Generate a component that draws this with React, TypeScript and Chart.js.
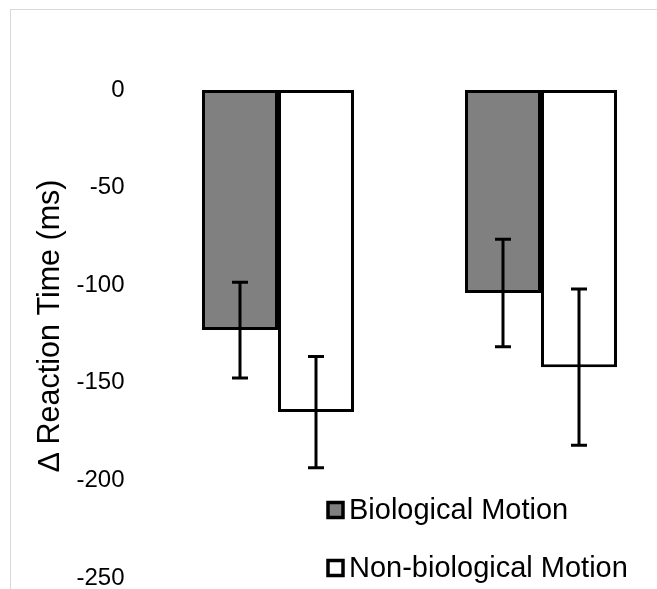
import React, { useEffect, useRef } from "react";
import { Chart, registerables } from "chart.js";

Chart.register(...registerables);

const categories = ["Condition A", "Condition B"];
const seriesNames = ["Biological Motion", "Non-biological Motion"];
const bioMeans = [-123, -104];
const bioErrors = [24.5, 27.5];
const nonBioMeans = [-165, -142];
const nonBioErrors = [28.5, 40];
const yMin = -250;
const yMax = 0;
const yStep = 50;
const yTitle = "  \u2206 Reaction Time (ms)";

const FONT = "'Liberation Sans', Arial, sans-serif";

const errorBarPlugin = {
  id: "errorBars",
  afterDatasetsDraw(chart: any) {
    const ctx = chart.ctx;
    const yScale = chart.scales.y;
    chart.data.datasets.forEach((ds: any, di: number) => {
      const meta = chart.getDatasetMeta(di);
      const errs: number[] = ds.errors || [];
      meta.data.forEach((bar: any, i: number) => {
        const v = ds.data[i];
        const e = errs[i];
        const yTop = yScale.getPixelForValue(v + e);
        const yBot = yScale.getPixelForValue(v - e);
        const x = bar.x;
        ctx.save();
        ctx.strokeStyle = "#000";
        ctx.lineWidth = 3;
        ctx.beginPath();
        ctx.moveTo(x, yTop);
        ctx.lineTo(x, yBot);
        ctx.moveTo(x - 8, yTop);
        ctx.lineTo(x + 8, yTop);
        ctx.moveTo(x - 8, yBot);
        ctx.lineTo(x + 8, yBot);
        ctx.stroke();
        ctx.restore();
      });
    });
  },
};

const innerLegendPlugin = {
  id: "innerLegend",
  afterDraw(chart: any) {
    const ctx = chart.ctx;
    const rows = [510, 568];
    const boxX = 328;
    const box = 15;
    chart.data.datasets.forEach((ds: any, di: number) => {
      const cy = rows[di];
      ctx.save();
      ctx.fillStyle = ds.backgroundColor;
      ctx.strokeStyle = "#000";
      ctx.lineWidth = 3.5;
      ctx.fillRect(boxX, cy - box / 2, box, box);
      ctx.strokeRect(boxX, cy - box / 2, box, box);
      ctx.fillStyle = "#000";
      ctx.font = `29px ${FONT}`;
      ctx.textBaseline = "middle";
      ctx.textAlign = "left";
      ctx.fillText(ds.label, 349, cy + 1);
      ctx.restore();
    });
  },
};

export default function App() {
  const canvasRef = useRef<HTMLCanvasElement | null>(null);

  useEffect(() => {
    if (!canvasRef.current) return;
    const chart = new Chart(canvasRef.current, {
      type: "bar",
      data: {
        labels: categories,
        datasets: [
          {
            label: seriesNames[0],
            data: bioMeans,
            errors: bioErrors,
            backgroundColor: "#808080",
            borderColor: "#000",
            borderWidth: 3,
            borderSkipped: false,
          } as any,
          {
            label: seriesNames[1],
            data: nonBioMeans,
            errors: nonBioErrors,
            backgroundColor: "#ffffff",
            borderColor: "#000",
            borderWidth: 3,
            borderSkipped: false,
          } as any,
        ],
      },
      options: {
        animation: false,
        responsive: false,
        devicePixelRatio: 1,
        categoryPercentage: 0.578,
        barPercentage: 1,
        layout: { padding: { top: 90, bottom: 11, left: 0, right: 17.5 } },
        plugins: {
          legend: { display: false },
          tooltip: { enabled: false },
        },
        scales: {
          x: {
            type: "category",
            display: false,
            offset: true,
          },
          y: {
            min: yMin,
            max: yMax,
            border: { display: false },
            grid: { display: false, drawTicks: false },
            ticks: {
              stepSize: yStep,
              padding: 22,
              color: "#000",
              font: { family: FONT, size: 24 },
            },
            title: {
              display: true,
              text: yTitle,
              color: "#000",
              font: { family: FONT, size: 30.5 },
              padding: { top: 32, bottom: 0 },
            },
            afterFit(scale: any) {
              scale.width = 146.5;
              scale.paddingTop = 0;
              scale.paddingBottom = 0;
            },
          },
        },
      } as any,
      plugins: [errorBarPlugin, innerLegendPlugin],
    });
    return () => chart.destroy();
  }, []);

  return (
    <div
      style={{
        position: "fixed",
        left: 0,
        top: 0,
        width: 657,
        height: 589,
        overflow: "hidden",
        background: "#fff",
      }}
    >
      <div
        style={{
          position: "absolute",
          left: 10,
          top: 9,
          width: 700,
          height: 700,
          borderLeft: "1px solid #d9d9d9",
          borderTop: "1px solid #d9d9d9",
        }}
      />
      <canvas
        ref={canvasRef}
        width={690}
        height={589}
        style={{ position: "absolute", left: 0, top: 0, width: 690, height: 589 }}
      />
    </div>
  );
}
